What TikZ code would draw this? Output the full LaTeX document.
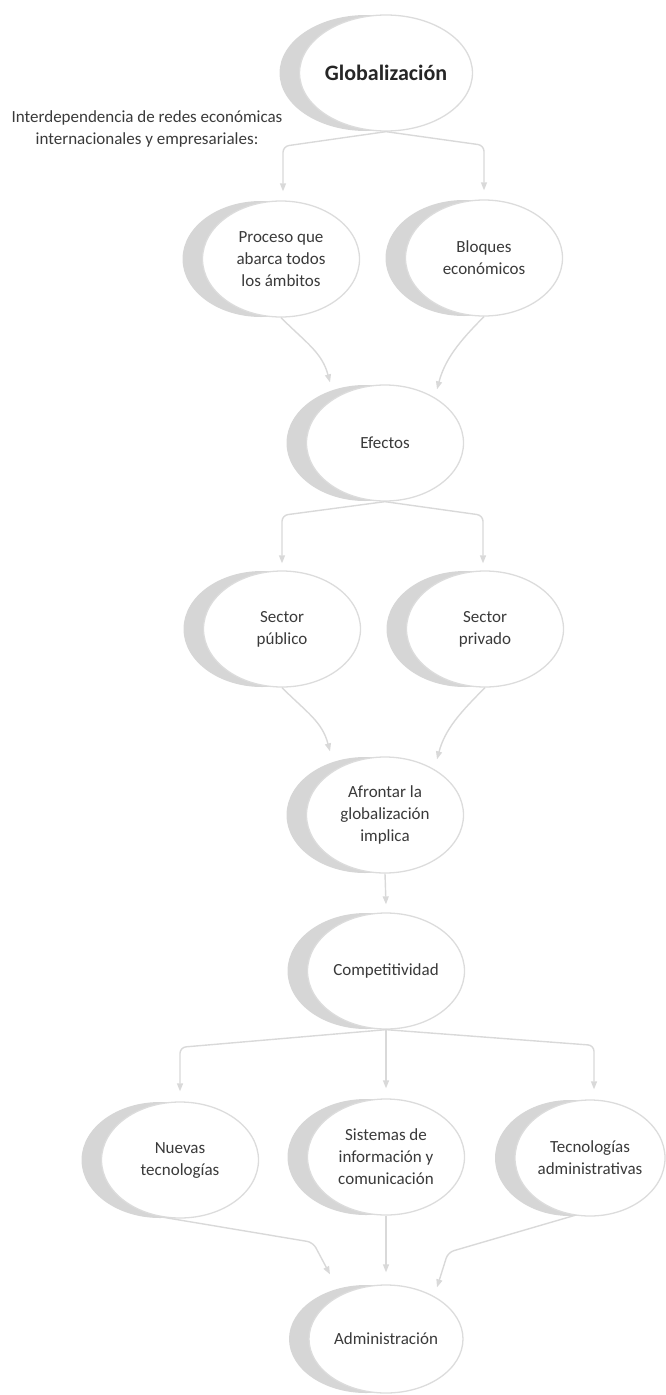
\documentclass[tikz,border=0pt]{standalone}
\usepackage{fontspec}
\setmainfont{Carlito}
\usetikzlibrary{calc,arrows.meta,shapes.geometric,shadows}

\definecolor{rimgray}{HTML}{DCDCDC}
\definecolor{crescent}{HTML}{D6D6D6}
\definecolor{linkgray}{HTML}{D9D9D9}
\definecolor{inkgray}{HTML}{3A3A3A}

\begin{document}
\begin{tikzpicture}[x=1pt,y=-1pt,
  bubble/.style={ellipse, draw=rimgray, line width=1.3pt, fill=white,
    minimum width=157pt, minimum height=116pt, inner sep=0pt, align=center,
    text=inkgray, font=\fontsize{17}{22}\selectfont,
    general shadow={fill=crescent, draw=none, shadow xshift=-20pt}},
  lbl/.style={align=center, text=inkgray, font=\fontsize{17}{22}\selectfont},
  conn/.style={draw=linkgray, line width=1.4pt, rounded corners=6pt,
    -{Triangle[length=8pt,width=6pt]}}]
  \useasboundingbox (0,0) rectangle (666,1395);
  \node[bubble, font=\fontsize{22}{26}\selectfont\bfseries, text=black!85] (glob) at (386,73) {Globalización};
  \node[lbl] (interd) at (147,129) {Interdependencia de redes económicas\\internacionales y empresariales:};
  \node[bubble] (proceso) at (281,259) {Proceso que\\abarca todos\\los ámbitos};
  \node[bubble] (bloques) at (484,258) {Bloques\\económicos};
  \node[bubble] (efectos) at (385,443) {Efectos};
  \node[bubble] (publico) at (282,629) {Sector\\público};
  \node[bubble] (privado) at (485,629) {Sector\\privado};
  \node[bubble] (afrontar) at (385,815) {Afrontar la\\globalización\\implica};
  \node[bubble] (compet) at (386,971) {Competitividad};
  \node[bubble] (nuevas) at (180,1160) {Nuevas\\tecnologías};
  \node[bubble] (sistemas) at (386,1157) {Sistemas de\\información y\\comunicación};
  \node[bubble, minimum width=150pt] (tecadm) at (590,1158) {Tecnologías\\administrativas};
  \node[bubble, minimum width=154pt, minimum height=108pt] (admin) at (386,1339) {Administración};
  % links
  \draw[conn] (glob.south) -- ($(proceso.north)+(2,-54)$) -- ($(proceso.north)+(2,-9)$);
  \draw[conn] (glob.south) -- ($(bloques.north)+(0,-54)$) -- ($(bloques.north)+(0,-9)$);
  \draw[conn] (proceso.south) .. controls +(25,25) and +(-8,-30) .. ($(efectos.north)+(-55,-2)$);
  \draw[conn] (bloques.south) .. controls +(-25,25) and +(8,-30) .. ($(efectos.north)+(52,5)$);
  \draw[conn] (efectos.south) -- ($(publico.north)+(0,-55)$) -- ($(publico.north)+(0,-7)$);
  \draw[conn] (efectos.south) -- ($(privado.north)+(-2,-55)$) -- ($(privado.north)+(-2,-7)$);
  \draw[conn] (publico.south) .. controls +(25,25) and +(-8,-30) .. ($(afrontar.north)+(-55,-5)$);
  \draw[conn] (privado.south) .. controls +(-25,25) and +(8,-30) .. ($(afrontar.north)+(52,3)$);
  \draw[conn] (afrontar.south) -- ($(compet.north)+(0,-8)$);
  \draw[conn] (compet.south) -- ($(nuevas.north)+(0,-54)$) -- ($(nuevas.north)+(0,-10)$);
  \draw[conn] (compet.south) -- ($(sistemas.north)+(0,-10)$);
  \draw[conn] (compet.south) -- ($(tecadm.north)+(4,-54)$) -- ($(tecadm.north)+(4,-10)$);
  \draw[conn] (nuevas.250) -- ($(admin.north)+(-73,-42)$) -- ($(admin.north)+(-56,-10)$);
  \draw[conn] (sistemas.south) -- ($(admin.north)+(0,-12)$);
  \draw[conn] (tecadm.255) -- ($(admin.north)+(62,-32)$) -- ($(admin.north)+(51,3)$);
\end{tikzpicture}
\end{document}
